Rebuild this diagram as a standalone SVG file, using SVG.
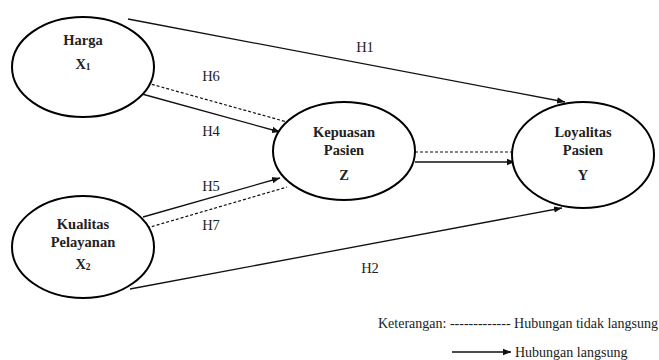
<svg xmlns="http://www.w3.org/2000/svg" width="659" height="360" viewBox="0 0 659 360">
  <style>
    text { font-family: 'Liberation Serif', 'Times New Roman', 'DejaVu Serif', serif; fill: #222; }
    .node { fill: #fff; stroke: #000; stroke-width: 2; }
    .lbl { font-weight: bold; font-size: 14.5px; text-anchor: middle; }
    .h { font-size: 14.5px; text-anchor: middle; }
    .leg { font-size: 14px; }
    .direct { stroke: #111; stroke-width: 1.3; fill: none; marker-end: url(#arrow); }
    .indirect { stroke: #111; stroke-width: 1.2; fill: none; stroke-dasharray: 3 2; }
  </style>
  <defs>
    <marker id="arrow" viewBox="0 0 10 10" refX="10" refY="5" markerWidth="8" markerHeight="8" markerUnits="userSpaceOnUse" orient="auto">
      <path d="M0,1 L10,5 L0,9 Z" fill="#111"/>
    </marker>
  </defs>
  <rect width="659" height="360" fill="#fff"/>

  <!-- connectors -->
  <g id="connectors">
    <line class="direct" x1="128" y1="19" x2="565" y2="102"/>
    <line class="direct" x1="130" y1="289" x2="562" y2="208"/>
    <line class="direct" x1="142" y1="94" x2="280" y2="132"/>
    <line class="indirect" x1="147" y1="83" x2="287" y2="122"/>
    <line class="direct" x1="143" y1="217" x2="280" y2="178"/>
    <line class="indirect" x1="147" y1="228" x2="287" y2="187"/>
    <line class="indirect" x1="415" y1="152" x2="515" y2="152"/>
    <line class="direct" x1="415" y1="162" x2="515" y2="162"/>
    <text class="h" x="365" y="52">H1</text>
    <text class="h" x="211" y="81">H6</text>
    <text class="h" x="211" y="136">H4</text>
    <text class="h" x="211" y="191">H5</text>
    <text class="h" x="211" y="230">H7</text>
    <text class="h" x="379" y="190">H3</text>
    <text class="h" x="370" y="273">H2</text>
  </g>

  <g id="harga">
    <ellipse class="node" cx="83" cy="67" rx="71" ry="50"/>
    <text class="lbl" x="83" y="45">Harga</text>
    <text class="lbl" x="83" y="69">X<tspan font-size="9.5" dy="1">1</tspan></text>
  </g>

  <g id="kualitas">
    <ellipse class="node" cx="83" cy="247" rx="71" ry="51"/>
    <text class="lbl" x="83" y="229">Kualitas</text>
    <text class="lbl" x="83" y="247">Pelayanan</text>
    <text class="lbl" x="83" y="269">X<tspan font-size="9.5" dy="1">2</tspan></text>
  </g>

  <g id="kepuasan">
    <ellipse class="node" cx="344" cy="151" rx="71" ry="49"/>
    <text class="lbl" x="344" y="137">Kepuasan</text>
    <text class="lbl" x="344" y="155">Pasien</text>
    <text class="lbl" x="344" y="180">Z</text>
  </g>

  <g id="loyalitas">
    <ellipse class="node" cx="583" cy="155" rx="71" ry="53"/>
    <text class="lbl" x="583" y="137">Loyalitas</text>
    <text class="lbl" x="583" y="155">Pasien</text>
    <text class="lbl" x="583" y="180">Y</text>
  </g>

  <!-- legend -->
  <g id="legend">
    <text class="leg" x="378" y="328" textLength="280" lengthAdjust="spacingAndGlyphs">Keterangan: ------------- Hubungan tidak langsung</text>
    <line class="direct" x1="452" y1="352" x2="511" y2="352"/>
    <text class="leg" x="515" y="357">Hubungan langsung</text>
  </g>
</svg>
